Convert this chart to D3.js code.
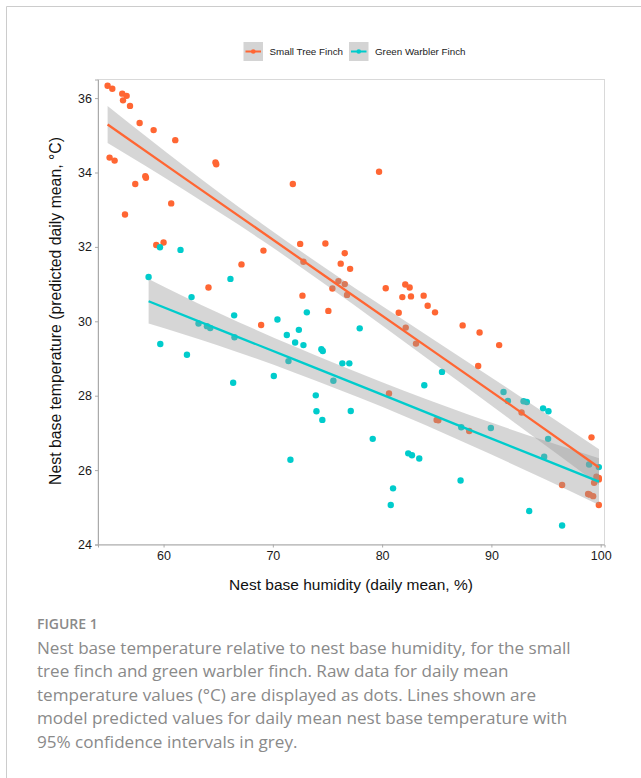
<!DOCTYPE html>
<html lang="en">
<head>
<meta charset="UTF-8">
<title>Nest base temperature vs humidity</title>
<script src="https://d3js.org/d3.v7.min.js"></script>
<style>
    body { margin: 0; background: #fff; }
    svg { display: block; }
    .tick text { font-family: "Liberation Sans", Arial, sans-serif; font-size: 12.5px; fill: #1a1a1a; }
    .tick line { stroke: #aaaaaa; }
    .domain { stroke: #aaaaaa; }
</style>
</head>
<body>
<div id="chart"></div>
<script>
// series names + colours
const seriesNames = ["Small Tree Finch", "Green Warbler Finch"];
const seriesColors = ["#FF6633", "#00CCCC"];

// small tree finch raw points (humidity %, temp C)
const stfHumidity = [54.88, 55.31, 56.22, 56.62, 56.29, 56.93, 57.81, 59.09, 61.07, 55.06, 55.52, 64.75, 64.82, 58.33, 58.39,
    57.41, 60.70, 56.47, 59.33, 60.00, 69.14, 71.83, 79.72, 72.50, 74.81, 67.13, 64.11, 68.93, 76.58, 76.21, 77.07, 72.80,
    76.00, 76.58, 75.45, 76.79, 72.71, 75.08, 80.33, 82.12, 82.52, 81.85, 82.64, 83.80, 84.17, 84.84, 81.52, 82.16, 83.10,
    80.63, 87.37, 88.92, 90.71, 88.79, 92.76, 85.14, 84.99, 87.97, 99.16, 96.47, 98.85, 99.00, 99.31, 99.83, 99.40, 99.83,
    99.61, 99.83];
const stfTemp = [36.33, 36.25, 36.12, 36.06, 35.94, 35.79, 35.33, 35.14, 34.87, 34.40, 34.32, 34.27, 34.22, 33.90, 33.86,
    33.69, 33.17, 32.87, 32.05, 32.12, 31.90, 33.69, 34.02, 32.08, 32.09, 31.53, 30.91, 29.90, 31.83, 31.55, 31.41, 31.60,
    31.08, 31.00, 30.88, 30.71, 30.69, 30.28, 30.89, 30.99, 30.91, 30.65, 30.67, 30.69, 30.42, 30.24, 30.23, 29.83, 29.40,
    28.06, 29.89, 29.70, 29.36, 28.80, 27.55, 27.34, 27.35, 27.05, 26.88, 25.60, 25.36, 25.34, 25.30, 25.06, 25.66, 25.79,
    25.82, 25.75];

// green warbler finch raw points
const gwfHumidity = [58.63, 59.67, 61.55, 66.12, 62.56, 66.46, 63.20, 63.97, 64.27, 66.49, 59.70, 62.14, 66.37, 73.11,
    70.42, 77.95, 71.28, 72.38, 72.04, 72.80, 74.44, 74.57, 71.43, 76.36, 77.00, 75.54, 70.09, 83.86, 73.93, 73.99, 74.53,
    77.13, 79.14, 71.61, 82.39, 82.73, 83.40, 81.00, 80.79, 85.48, 91.11, 91.51, 92.94, 93.24, 94.73, 95.22, 89.95, 87.24,
    95.19, 94.83, 98.94, 99.83, 87.18, 93.46, 96.47];
const gwfTemp = [31.19, 31.99, 31.92, 31.14, 30.65, 30.16, 29.94, 29.87, 29.82, 29.57, 29.39, 29.10, 28.35, 30.24,
    30.05, 29.81, 29.63, 29.77, 29.43, 29.36, 29.25, 29.20, 28.93, 28.87, 28.87, 28.40, 28.53, 28.28, 28.01, 27.58, 27.35,
    27.59, 26.84, 26.28, 26.45, 26.40, 26.31, 25.51, 25.06, 28.64, 28.10, 27.86, 27.85, 27.83, 27.66, 27.58, 27.13, 27.15,
    26.84, 26.36, 26.15, 26.08, 25.72, 24.90, 24.51];

// model predictions with 95% CI
const stfFitX = [54.88, 62, 69, 75, 85, 92, 99.85];
const stfFit = [35.29, 33.83, 32.40, 31.17, 29.13, 27.70, 26.07];
const stfLo = [34.79, 33.51, 32.18, 30.95, 28.81, 27.30, 25.60];
const stfHi = [35.79, 34.15, 32.62, 31.39, 29.45, 28.10, 26.56];

const gwfFitX = [58.63, 65, 72, 80, 88, 95, 99.85];
const gwfFit = [30.54, 29.79, 28.97, 28.03, 27.08, 26.26, 25.69];
const gwfLo = [29.94, 29.35, 28.62, 27.70, 26.68, 25.74, 25.06];
const gwfHi = [31.14, 30.23, 29.32, 28.36, 27.48, 26.78, 26.32];

const xTicks = [60, 70, 80, 90, 100];
const yTicks = [24, 26, 28, 30, 32, 34, 36];

const xTitle = "Nest base humidity (daily mean, %)";
const yTitle = "Nest base temperature (predicted daily mean, \u00B0C)";
const figLabel = "FIGURE 1";
const captionLines = [
    "Nest base temperature relative to nest base humidity, for the small",
    "tree finch and green warbler finch. Raw data for daily mean",
    "temperature values (\u00B0C) are displayed as dots. Lines shown are",
    "model predicted values for daily mean nest base temperature with",
    "95% confidence intervals in grey."
];

const W = 641, H = 778;
const pLeft = 98, pRight = 604.5, pTop = 79.5, pBottom = 544.5;

const svg = d3.select("#chart").append("svg").attr("width", W).attr("height", H);
svg.append("rect").attr("width", W).attr("height", H).attr("fill", "#fff");

// figure frame (left + top)
svg.append("path").attr("d", "M6.5," + H + "V6.5H" + W)
    .attr("fill", "none").attr("stroke", "#cccccc");

const x = d3.scaleLinear().domain([54.0, 100.35]).range([pLeft, pRight]);
const y = d3.scaleLinear().domain([24, 36.5]).range([pBottom, pTop]);

// panel border
svg.append("rect").attr("x", pLeft).attr("y", pTop)
    .attr("width", pRight - pLeft).attr("height", pBottom - pTop)
    .attr("fill", "none").attr("stroke", "#d9d9d9");

const plot = svg.append("g");

function pts(hs, ts, color) {
    plot.append("g").selectAll("circle")
        .data(hs.map((h, i) => [h, ts[i]]))
        .join("circle")
        .attr("cx", d => x(d[0]))
        .attr("cy", d => y(d[1]))
        .attr("r", 3.2)
        .attr("fill", color);
}
pts(stfHumidity, stfTemp, seriesColors[0]);
pts(gwfHumidity, gwfTemp, seriesColors[1]);

const band = d3.area()
    .x(d => x(d[0])).y0(d => y(d[1])).y1(d => y(d[2]))
    .curve(d3.curveMonotoneX);
const line = d3.line().x(d => x(d[0])).y(d => y(d[1]));

const fits = [
    [stfFitX, stfFit, stfLo, stfHi],
    [gwfFitX, gwfFit, gwfLo, gwfHi]
];
fits.forEach(f => {
    plot.append("path")
        .datum(f[0].map((v, i) => [v, f[2][i], f[3][i]]))
        .attr("d", band)
        .attr("fill", "#999999").attr("fill-opacity", 0.4);
});
fits.forEach((f, k) => {
    plot.append("path")
        .datum(f[0].map((v, i) => [v, f[1][i]]))
        .attr("d", line)
        .attr("fill", "none")
        .attr("stroke", seriesColors[k])
        .attr("stroke-width", 2.3);
});

// axes
svg.append("g").attr("transform", "translate(" + pLeft + ",0)")
    .call(d3.axisLeft(y).tickValues(yTicks).tickSize(3).tickPadding(3));
svg.append("g").attr("transform", "translate(0," + pBottom + ")")
    .call(d3.axisBottom(x).tickValues(xTicks).tickSize(3).tickPadding(4));

svg.append("text")
    .attr("x", 351).attr("y", 590)
    .attr("text-anchor", "middle")
    .style("font-family", "'Liberation Sans', Arial, sans-serif")
    .style("font-size", "15.5px").attr("fill", "#111")
    .text(xTitle);

svg.append("text")
    .attr("transform", "translate(61," + ((pTop + pBottom) / 2 - 1) + ") rotate(-90)")
    .attr("text-anchor", "middle")
    .style("font-family", "'Liberation Sans', Arial, sans-serif")
    .style("font-size", "15.8px").attr("fill", "#111")
    .text(yTitle);

// legend
const legendX = [243.5, 349];
seriesNames.forEach((name, i) => {
    const g = svg.append("g").attr("transform", "translate(" + legendX[i] + ",42)");
    g.append("rect").attr("width", 19.5).attr("height", 19).attr("fill", "#d4d4d4");
    g.append("line").attr("x1", 2).attr("x2", 17.5).attr("y1", 9.5).attr("y2", 9.5)
        .attr("stroke", seriesColors[i]).attr("stroke-width", 2);
    g.append("circle").attr("cx", 9.75).attr("cy", 9.5).attr("r", 2.3).attr("fill", seriesColors[i]);
    g.append("text").attr("x", 26).attr("y", 13.3)
        .style("font-family", "'Liberation Sans', Arial, sans-serif")
        .style("font-size", "9.8px").attr("fill", "#222")
        .text(name);
});

// caption
svg.append("text").attr("x", 37).attr("y", 629)
    .style("font-family", "'Open Sans', sans-serif").style("font-weight", 600)
    .style("font-size", "14px").attr("fill", "#8a8a8a")
    .text(figLabel);

svg.append("g").selectAll("text")
    .data(captionLines)
    .join("text")
    .attr("x", 37)
    .attr("y", (d, i) => 654 + i * 23.4)
    .style("font-family", "'Open Sans', sans-serif")
    .style("font-size", "17.1px").attr("fill", "#8a8a8a")
    .text(d => d);
</script>
</body>
</html>
